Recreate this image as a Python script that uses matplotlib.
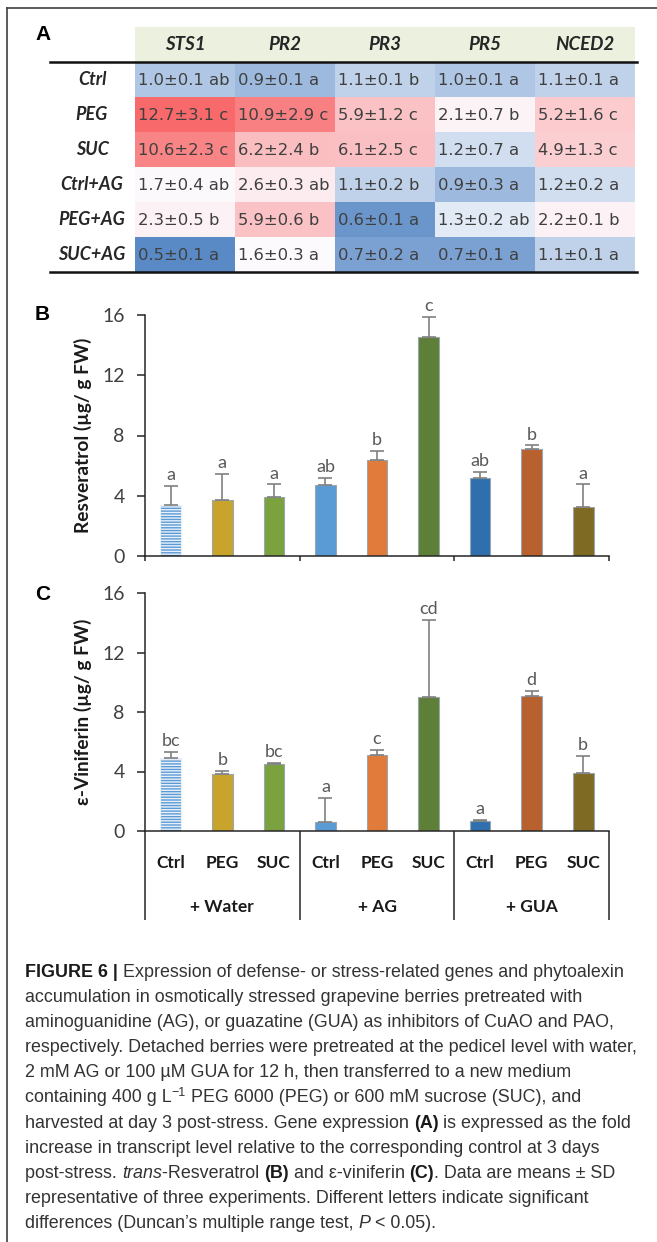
import numpy as np
import matplotlib
matplotlib.use('Agg')
import matplotlib.pyplot as plt
from matplotlib.colors import LinearSegmentedColormap, TwoSlopeNorm
from matplotlib.lines import Line2D

# --- data: panel A (fold change table) ---
genes = ['STS1', 'PR2', 'PR3', 'PR5', 'NCED2']
row_names = ['Ctrl', 'PEG', 'SUC', 'Ctrl+AG', 'PEG+AG', 'SUC+AG']
expr_mean = [[1.0, 0.9, 1.1, 1.0, 1.1],
             [12.7, 10.9, 5.9, 2.1, 5.2],
             [10.6, 6.2, 6.1, 1.2, 4.9],
             [1.7, 2.6, 1.1, 0.9, 1.2],
             [2.3, 5.9, 0.6, 1.3, 2.2],
             [0.5, 1.6, 0.7, 0.7, 1.1]]
expr_sd = [[0.1, 0.1, 0.1, 0.1, 0.1],
           [3.1, 2.9, 1.2, 0.7, 1.6],
           [2.3, 2.4, 2.5, 0.7, 1.3],
           [0.4, 0.3, 0.2, 0.3, 0.2],
           [0.5, 0.6, 0.1, 0.2, 0.1],
           [0.1, 0.3, 0.2, 0.1, 0.1]]
expr_grp = [['ab', 'a', 'b', 'a', 'a'],
            ['c', 'c', 'c', 'b', 'c'],
            ['c', 'b', 'c', 'a', 'c'],
            ['ab', 'ab', 'b', 'a', 'a'],
            ['b', 'b', 'a', 'ab', 'b'],
            ['a', 'a', 'a', 'a', 'a']]

# --- data: panels B and C ---
pretreat = ['+ Water', '+ AG', '+ GUA']
stress = ['Ctrl', 'PEG', 'SUC']
resv_mean = [3.4, 3.75, 3.95, 4.7, 6.4, 14.55, 5.15, 7.1, 3.25]
resv_sd = [1.25, 1.7, 0.8, 0.5, 0.6, 1.3, 0.45, 0.25, 1.5]
resv_grp = ['a', 'a', 'a', 'ab', 'b', 'c', 'ab', 'b', 'a']
vinif_mean = [4.9, 3.8, 4.5, 0.6, 5.1, 9.0, 0.65, 9.1, 3.9]
vinif_sd = [0.4, 0.22, 0.08, 1.6, 0.35, 5.2, 0.1, 0.3, 1.15]
vinif_grp = ['bc', 'b', 'bc', 'a', 'c', 'cd', 'a', 'd', 'b']
bar_colors = ['#5B9BD5', '#C9A42C', '#7BA23F', '#5B9BD5', '#E07B3C',
              '#5E7F38', '#2F6FAE', '#B8612F', '#7E6A22']

W, H = 657, 1242
plt.rcParams['font.family'] = ['Lato', 'DejaVu Sans']


def fx(px):
    return px / W


def fy(py):
    return 1 - py / H


fig = plt.figure(figsize=(W / 100, H / 100), dpi=100)

# frame (top and left edge)
fig.add_artist(Line2D([fx(7), fx(7)], [fy(8), fy(H)], color='#404040', lw=1.2))
fig.add_artist(Line2D([fx(7), fx(W)], [fy(8), fy(8)], color='#404040', lw=1.2))

# panel letters
for lab, ypx in [('A', 35), ('B', 315), ('C', 595)]:
    fig.text(fx(35), fy(ypx), lab, fontsize=15, fontweight='bold',
             family='Liberation Sans', va='center', ha='left')

# ---------------- panel A ----------------
axT = fig.add_axes([fx(135), fy(272), 500 / W, 245 / H])
axT.set_xlim(0, 5)
axT.set_ylim(7, 0)
axT.axis('off')
vals = np.array(expr_mean)
cmap = LinearSegmentedColormap.from_list('excel3', ['#5A8AC6', '#FCFCFF', '#F8696B'])
norm = TwoSlopeNorm(vmin=vals.min(), vcenter=np.median(vals), vmax=vals.max())
axT.pcolormesh(np.arange(6), np.arange(1, 8), vals, cmap=cmap, norm=norm)
axT.axhspan(0, 1, color='#EBF1DE', lw=0)
for j, g in enumerate(genes):
    axT.text(j + 0.5, 0.5, g, ha='center', va='center', fontsize=13.5,
             fontweight='bold', fontstyle='italic', color='#262626')
for i, r in enumerate(row_names):
    axT.text(-0.43, i + 1.5, r, ha='center', va='center', fontsize=13,
             fontweight='bold', fontstyle='italic', color='#262626')
    for j in range(len(genes)):
        s = f"{expr_mean[i][j]:.1f}±{expr_sd[i][j]:.1f} {expr_grp[i][j]}"
        axT.text(j + 0.035, i + 1.52, s, ha='left', va='center', fontsize=11.8,
                 family='DejaVu Sans', color='#3f3f3f')
for yy in (1, 7):
    axT.plot([-0.85, 5.02], [yy, yy], color='#111111', lw=1.8, clip_on=False)


# ---------------- panels B and C ----------------
def bar_panel(ax, means, sds, grps, ylabel):
    x = np.arange(len(means))
    bars = ax.bar(x, means, width=0.4, color=bar_colors, edgecolor='#9aa6b2',
                  linewidth=0.8, zorder=2)
    bars[0].set_hatch('------')
    bars[0].set_edgecolor('#e8f0fa')
    ax.errorbar(x, means, yerr=[np.zeros(len(sds)), sds], fmt='none',
                ecolor='#808080', elinewidth=1.2, capsize=5, capthick=1.2, zorder=3)
    for xi, m, s, g in zip(x, means, sds, grps):
        ax.annotate(g, (xi, m + s), xytext=(0, 2), textcoords='offset points',
                    ha='center', va='bottom', fontsize=13, color='#595959')
    ax.set_xlim(-0.5, 8.5)
    ax.set_ylim(0, 16)
    ax.set_yticks([0, 4, 8, 12, 16])
    ax.set_xticks([-0.5, 2.5, 5.5, 8.5])
    ax.set_xticklabels([])
    ax.tick_params(axis='y', length=5.5, width=1.1, pad=9, labelsize=14,
                   labelcolor='#404040', color='#262626')
    ax.tick_params(axis='x', length=3.6, width=1.1, color='#262626')
    for sp in ('top', 'right'):
        ax.spines[sp].set_visible(False)
    for sp in ('left', 'bottom'):
        ax.spines[sp].set_linewidth(1.1)
        ax.spines[sp].set_color('#262626')
    ax.set_ylabel(ylabel, fontsize=13.8, fontweight='bold', color='#1a1a1a')
    ax.yaxis.set_label_coords(-0.115, 0.5)


axB = fig.add_axes([fx(145), fy(556), 464 / W, 241 / H])
bar_panel(axB, resv_mean, resv_sd, resv_grp, 'Resveratrol (µg/ g FW)')

axC = fig.add_axes([fx(145), fy(831), 464 / W, 238 / H])
bar_panel(axC, vinif_mean, vinif_sd, vinif_grp, 'ε-Viniferin (µg/ g FW)')
axC.tick_params(axis='x', length=64)
tr = axC.get_xaxis_transform()
for gi, p in enumerate(pretreat):
    for si, s in enumerate(stress):
        axC.text(gi * 3 + si, -0.134, s, transform=tr, ha='center', va='center',
                 fontsize=12.5, fontweight='bold', color='#1a1a1a')
    axC.text(gi * 3 + 1, -0.319, p, transform=tr, ha='center', va='center',
             fontsize=12.5, fontweight='bold', color='#1a1a1a')

# ---------------- caption ----------------
renderer = fig.canvas.get_renderer()
cap_kw = dict(fontsize=12.9, family='Liberation Sans', color='#333333')
B = dict(fontweight='bold', color='#1a1a1a')
I = dict(fontstyle='italic')


def run_width(s, kw):
    t = fig.text(0, 0, '|' + s + '|', **kw)
    t2 = fig.text(0, 0, '||', **kw)
    w = t.get_window_extent(renderer).width - t2.get_window_extent(renderer).width
    t.remove()
    t2.remove()
    return w


caption = [
    [("FIGURE 6 | ", B), ("Expression of defense- or stress-related genes and phytoalexin", {})],
    [("accumulation in osmotically stressed grapevine berries pretreated with", {})],
    [("aminoguanidine (AG), or guazatine (GUA) as inhibitors of CuAO and PAO,", {})],
    [("respectively. Detached berries were pretreated at the pedicel level with water,", {})],
    [("2 mM AG or 100 µM GUA for 12 h, then transferred to a new medium", {})],
    [("containing 400 g L", {}), ("−1", dict(fontsize=9, rise=6)),
     (" PEG 6000 (PEG) or 600 mM sucrose (SUC), and", {})],
    [("harvested at day 3 post-stress. Gene expression ", {}), ("(A)", B),
     (" is expressed as the fold", {})],
    [("increase in transcript level relative to the corresponding control at 3 days", {})],
    [("post-stress. ", {}), ("trans", I), ("-Resveratrol ", {}), ("(B)", B),
     (" and ε-viniferin ", {}), ("(C)", B), (". Data are means ± SD", {})],
    [("representative of three experiments. Different letters indicate significant", {})],
    [("differences (Duncan’s multiple range test, ", {}), ("P", I), (" < 0.05).", {})],
]
for li, runs in enumerate(caption):
    base = 977 + li * 25.1
    x = 25
    for s, kw in runs:
        kw2 = dict(cap_kw)
        kw2.update(kw)
        rise = kw2.pop('rise', 0)
        fig.text(fx(x), fy(base - rise), s, ha='left', va='baseline', **kw2)
        x += run_width(s, kw2)

fig.savefig('out.png', dpi=100)
